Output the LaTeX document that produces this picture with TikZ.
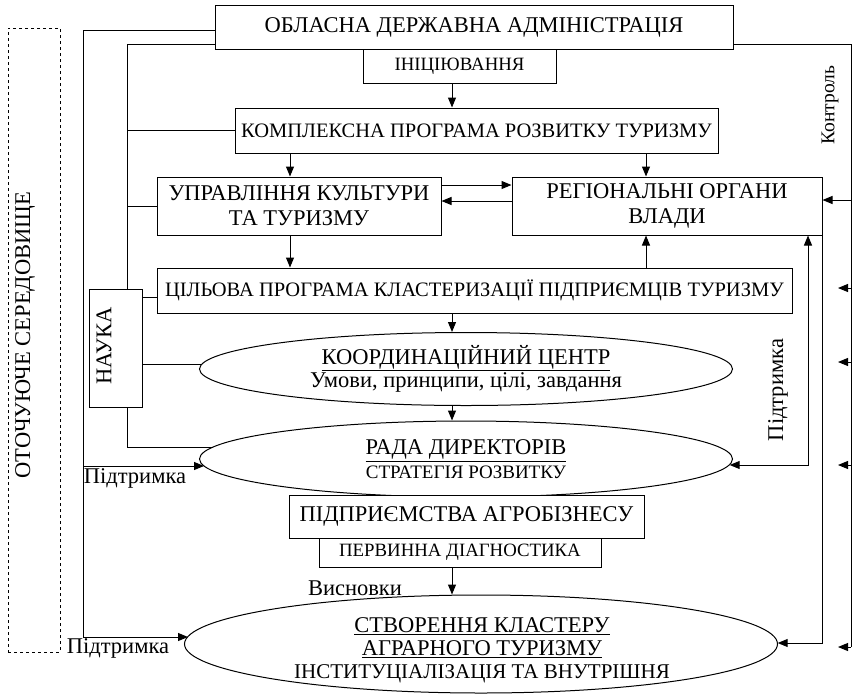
\documentclass[tikz,border=0pt]{standalone}
\usepackage{fontspec}
\setmainfont{Liberation Serif}
\usetikzlibrary{arrows.meta,shapes.geometric,calc}
\newcommand{\fbigsz}{\fontsize{22.5pt}{25pt}\selectfont}
\newcommand{\fsmsz}{\fontsize{18.8pt}{22pt}\selectfont}
\tikzset{
  fbig/.style={font=\fbigsz},
  fmid/.style={font=\fontsize{20.5pt}{24pt}\selectfont},
  fsmall/.style={font=\fsmsz},
  box/.style={draw, line width=1pt, fill=white, rectangle, inner sep=0pt, align=center},
  oval/.style={draw, line width=1pt, fill=white, ellipse, inner sep=0pt, align=center, font=\fontsize{22.5pt}{23.5pt}\selectfont},
  ovaltext/.style={inner sep=0pt, align=center, font=\fontsize{22.5pt}{23.5pt}\selectfont},
  conn/.style={line width=1pt},
  arr/.style={line width=1pt, -{Triangle[length=10pt,width=8pt]}},
  darr/.style={line width=1pt, {Triangle[length=10pt,width=8pt]}-{Triangle[length=10pt,width=8pt]}},
  lbl/.style={inner sep=0pt}
}
\begin{document}
\begin{tikzpicture}[x=1pt,y=-1pt]
\useasboundingbox (0,0) rectangle (854,694);
% environment
\node[draw, dashed, line width=1pt, minimum width=52pt, minimum height=624pt, inner sep=0pt] (env) at (34,340) {};
\node[lbl, fbig, rotate=90] (envt) at (25,335) {ОТОЧУЮЧЕ СЕРЕДОВИЩЕ};

% boxes
\node[box, fbig, minimum width=518pt, minimum height=44pt] (oda) at (474,27) {ОБЛАСНА ДЕРЖАВНА АДМІНІСТРАЦІЯ};
\node[box, fsmall, minimum width=193pt, minimum height=34pt] (init) at (459.5,66) {ІНІЦІЮВАННЯ};
\node[box, fmid, minimum width=483pt, minimum height=45pt] (kprt) at (476.5,130.5) {КОМПЛЕКСНА ПРОГРАМА РОЗВИТКУ ТУРИЗМУ};
\node[box, fbig, minimum width=284pt, minimum height=58pt] (ukt) at (299,206) {УПРАВЛІННЯ КУЛЬТУРИ\\ТА ТУРИЗМУ};
\node[box, fbig, minimum width=310pt, minimum height=58pt] (rov) at (667,206) {РЕГІОНАЛЬНІ ОРГАНИ\\ВЛАДИ};
\node[box, fmid, minimum width=635pt, minimum height=45pt] (cp) at (474.5,290.5) {ЦІЛЬОВА ПРОГРАМА КЛАСТЕРИЗАЦІЇ ПІДПРИЄМЦІВ ТУРИЗМУ};
\node[box, minimum width=53pt, minimum height=118pt] (nauka) at (115.5,348) {};
\node[lbl, fbig, rotate=90] (naukat) at (104,346) {НАУКА};

% ellipses
\node[oval, minimum width=533pt, minimum height=73pt] (kc) at (466,369)
  {\underline{КООРДИНАЦІЙНИЙ ЦЕНТР}\\Умови, принципи, цілі, завдання};
\node[oval, minimum width=533pt, minimum height=76pt] (rada) at (466,459)
  {\underline{РАДА ДИРЕКТОРІВ}\\{\fontsize{19pt}{22pt}\selectfont СТРАТЕГІЯ РОЗВИТКУ}};
\node[box, fbig, minimum width=355pt, minimum height=43pt] (pab) at (466.5,516.5) {ПІДПРИЄМСТВА АГРОБІЗНЕСУ};
\node[box, fsmall, minimum width=282pt, minimum height=29pt] (pd) at (460,552.5) {ПЕРВИННА ДІАГНОСТИКА};
\node[oval, minimum width=593pt, minimum height=98pt] (skat) at (481,644) {};
\node[ovaltext] (skatt) at (482,650)
  {\underline{СТВОРЕННЯ КЛАСТЕРУ}\\\underline{АГРАРНОГО ТУРИЗМУ}\\[-1pt]{\fontsize{21pt}{22pt}\selectfont ІНСТИТУЦІАЛІЗАЦІЯ ТА ВНУТРІШНЯ}};

% labels
\node[lbl, font=\fontsize{19.5pt}{22pt}\selectfont, rotate=90] (kontr) at (830,105) {Контроль};
\node[lbl, fbig, rotate=90] (pidr) at (778,390) {Підтримка};
\node[lbl, fbig] (pidl1) at (135,478) {Підтримка};
\node[lbl, fbig] (pidl2) at (118,648) {Підтримка};
\node[lbl, fbig] (visn) at (355,588) {Висновки};

% helper coordinates
\coordinate (L1) at (83,30);
\coordinate (L2) at (127,44);
\coordinate (cA) at (452,0);
\coordinate (cB) at (290,0);
\coordinate (cC) at (646,0);
\coordinate (radaL) at ($(rada.west)+(5,7)$);
\coordinate (radaL2) at ($(rada.west)+(13.6,-12)$);
\coordinate (kcL) at ($(kc.west)+(2.5,-5)$);
\coordinate (skL) at ($(skat.west)+(4,-7)$);
\coordinate (cpL) at ($(cp.west)+(0,7)$);
\coordinate (R1) at (808,465);
\coordinate (radaR) at ($(rada.east)+(-3.3,6)$);
\coordinate (skR) at ($(skat.east)+(-0.3,-1)$);
\coordinate (K) at (851,44);
\coordinate (rovR) at ($(rov.east)+(0,-6)$);
\coordinate (s1) at (838,288);
\coordinate (s2) at (838,362);
\coordinate (s3) at (838,465);
\coordinate (s4) at (838,647);
\coordinate (ukA) at ($(ukt.east)+(0,-21)$);
\coordinate (ukB) at ($(ukt.east)+(0,-5)$);

% left outer line
\draw[arr] (oda.west |- L1) -- (L1) -- (L1 |- skL) -- (skL);
\draw[arr] (L1 |- radaL) -- (radaL);
% inner left line
\draw[conn] (oda.west |- L2) -- (L2) -- (L2 |- nauka.north);
\draw[conn] (L2 |- kprt.west) -- (kprt.west);
\draw[conn] (L2 |- ukt.west) -- (ukt.west);
\draw[conn] (nauka.east |- cpL) -- (cpL);
\draw[conn] (nauka.east |- kcL) -- (kcL);
\draw[conn] (L2 |- nauka.south) -- (L2 |- radaL2) -- (radaL2);

% central arrows
\draw[arr] (init.south -| cA) -- (kprt.north -| cA);
\draw[arr] (kprt.south -| cB) -- (ukt.north -| cB);
\draw[arr] (kprt.south -| cC) -- (rov.north -| cC);
\draw[arr] (ukA) -- (ukA -| rov.west);
\draw[arr] (ukB -| rov.west) -- (ukB);
\draw[arr] (ukt.south -| cB) -- (cp.north -| cB);
\draw[arr] (cp.north -| cC) -- (rov.south -| cC);
\draw[arr] (cp.south -| cA) -- (kc.north -| cA);
\draw[arr] (kc.south -| cA) -- (rada.north -| cA);
\draw[arr] (pd.south -| cA) -- (skat.north -| cA);

% right side
\draw[darr] (rov.south -| R1) -- (R1) -- (radaR);
\draw[arr] (rov.south east) -- (rov.south east |- skR) -- (skR);
\draw[conn] (oda.east |- K) -- (K) -- (K |- s4);
\draw[arr] (K |- rovR) -- (rovR);
\draw[arr] (K |- s1) -- (s1);
\draw[arr] (K |- s2) -- (s2);
\draw[arr] (K |- s3) -- (s3);
\draw[arr] (K |- s4) -- (s4);
\end{tikzpicture}
\end{document}
